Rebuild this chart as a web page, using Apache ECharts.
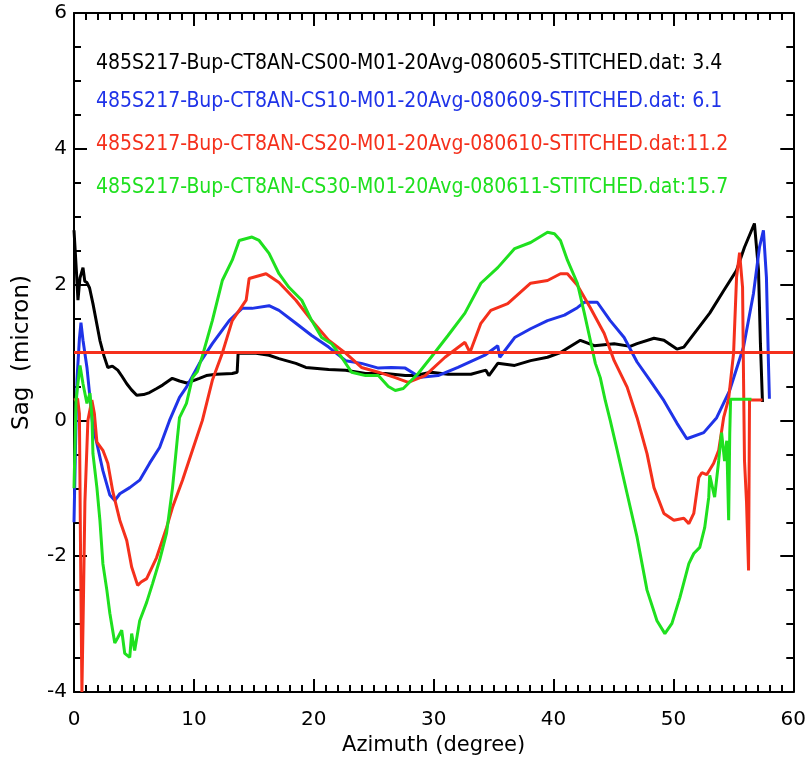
<!DOCTYPE html>
<html>
<head>
<meta charset="utf-8">
<script src="https://cdn.jsdelivr.net/npm/echarts@6/dist/echarts.min.js"></script>
<style>
  html, body { margin: 0; padding: 0; background: #ffffff; }
  #chart { width: 809px; height: 762px; }
</style>
</head>
<body>
<div id="chart"></div>
<script>
// Sag profiles versus azimuth, one trace per measurement file: [azimuth (deg), sag (micron)]
const cs00 = [[0,2.8],[0.1,2.5],[0.2,2.2],[0.33,1.77],[0.5,2.1],[0.75,2.25],[0.9,2.05],[1.08,2.03],[1.3,1.95],[1.58,1.72],[2.16,1.18],[2.5,0.95],[2.82,0.78],[3.2,0.8],[3.65,0.74],[4.0,0.65],[4.4,0.54],[4.8,0.45],[5.23,0.37],[5.8,0.38],[6.3,0.41],[6.9,0.47],[7.39,0.52],[8.2,0.62],[8.8,0.58],[9.4,0.55],[10.46,0.62],[11.04,0.66],[11.87,0.68],[13.2,0.69],[13.61,0.71],[13.69,0.99],[15.19,0.99],[16.27,0.96],[17.1,0.91],[18.51,0.84],[19.34,0.78],[21.24,0.75],[22.66,0.74],[24.32,0.69],[25.98,0.69],[27.63,0.66],[28.46,0.66],[29.79,0.71],[31.2,0.68],[33.11,0.68],[34.36,0.74],[34.61,0.66],[35.35,0.84],[36.76,0.81],[38.09,0.88],[39.5,0.93],[40.58,1.0],[42.24,1.18],[43.4,1.1],[45.06,1.13],[46.39,1.09],[46.97,1.13],[48.38,1.21],[49.21,1.18],[50.29,1.05],[50.87,1.08],[51.95,1.33],[53.03,1.58],[54.19,1.91],[55.27,2.21],[55.93,2.55],[56.76,2.9],[57.1,2.21],[57.26,1.13],[57.43,0.27]];

const cs10 = [[0,-1.5],[0.1,-0.6],[0.25,0.6],[0.45,1.2],[0.58,1.44],[0.75,1.18],[1.08,0.78],[1.33,0.34],[1.58,-0.1],[1.91,-0.34],[2.41,-0.74],[2.99,-1.1],[3.4,-1.18],[3.82,-1.08],[4.65,-0.99],[5.48,-0.88],[6.31,-0.63],[7.14,-0.4],[7.97,0.0],[8.8,0.34],[9.38,0.49],[10.46,0.84],[11.54,1.13],[12.95,1.47],[14.02,1.65],[14.85,1.65],[16.27,1.69],[17.1,1.62],[18.51,1.43],[19.83,1.25],[21.24,1.08],[22.66,0.88],[23.98,0.84],[25.39,0.77],[26.47,0.78],[27.63,0.77],[28.46,0.68],[28.71,0.63],[30.37,0.66],[32.03,0.78],[34.27,0.96],[35.35,1.1],[35.52,0.93],[36.76,1.22],[38.09,1.35],[39.5,1.47],[40.91,1.55],[41.99,1.66],[42.57,1.74],[43.65,1.74],[44.73,1.47],[45.89,1.22],[46.97,0.86],[48.05,0.59],[49.21,0.29],[50.29,-0.04],[51.12,-0.27],[52.53,-0.18],[53.61,0.04],[54.69,0.44],[55.85,1.08],[56.68,1.87],[57.18,2.55],[57.51,2.8],[57.76,2.11],[57.93,0.84],[58.01,0.32]];

const cs20 = [[0,0.3],[0.3,0.32],[0.45,0.1],[0.55,-2.0],[0.66,-4.0],[0.8,-2.5],[0.91,-1.2],[1.16,0.0],[1.49,0.3],[1.7,0.1],[1.91,-0.32],[2.41,-0.44],[2.82,-0.63],[3.24,-1.05],[3.82,-1.47],[4.4,-1.77],[4.81,-2.16],[5.31,-2.43],[5.6,-2.38],[6.06,-2.33],[6.89,-2.02],[7.72,-1.58],[8.22,-1.28],[9.05,-0.88],[9.88,-0.44],[10.71,0.0],[11.54,0.59],[12.37,0.99],[13.2,1.47],[14.36,1.77],[14.61,2.09],[16.02,2.16],[17.1,2.03],[18.51,1.77],[19.83,1.47],[21.24,1.18],[22.66,0.99],[23.98,0.78],[25.39,0.71],[26.8,0.63],[27.88,0.56],[29.29,0.66],[30.95,0.93],[32.61,1.15],[33.03,1.0],[33.94,1.43],[34.77,1.62],[36.18,1.72],[38.09,2.02],[39.5,2.06],[40.58,2.16],[41.16,2.16],[41.99,1.99],[43.07,1.66],[44.23,1.28],[45.06,0.88],[46.14,0.49],[46.97,0.04],[47.8,-0.49],[48.38,-0.99],[49.21,-1.37],[50.04,-1.47],[50.87,-1.44],[51.29,-1.52],[51.7,-1.37],[52.12,-0.84],[52.37,-0.77],[52.78,-0.8],[53.36,-0.63],[53.78,-0.44],[54.19,0.04],[54.61,0.32],[55.02,0.99],[55.27,2.11],[55.52,2.47],[55.77,1.96],[55.85,0.63],[55.93,-0.59],[56.1,-1.2],[56.27,-2.21],[56.35,0.3],[57.43,0.3]];

const cs30 = [[0,-1.0],[0.17,0.3],[0.5,0.81],[0.75,0.54],[1.08,0.25],[1.33,0.4],[1.5,0.04],[1.58,-0.49],[1.91,-0.99],[2.16,-1.47],[2.41,-2.11],[2.74,-2.5],[2.99,-2.84],[3.4,-3.28],[3.65,-3.2],[3.98,-3.09],[4.23,-3.43],[4.65,-3.49],[4.81,-3.14],[5.06,-3.39],[5.48,-2.95],[6.06,-2.68],[6.56,-2.4],[7.14,-2.06],[7.72,-1.66],[8.22,-0.99],[8.63,-0.25],[8.8,0.04],[9.38,0.25],[9.88,0.63],[10.29,0.72],[10.71,0.95],[11.54,1.47],[12.37,2.06],[13.2,2.36],[13.78,2.65],[14.85,2.7],[15.44,2.65],[16.27,2.46],[17.1,2.16],[17.93,1.96],[19.0,1.77],[19.83,1.47],[20.66,1.22],[21.49,1.13],[22.32,0.93],[23.15,0.71],[24.32,0.66],[25.39,0.66],[26.22,0.5],[26.8,0.44],[27.47,0.47],[28.71,0.69],[29.79,0.93],[31.2,1.25],[32.61,1.58],[33.94,2.02],[35.35,2.25],[36.76,2.53],[38.09,2.62],[39.5,2.77],[40.08,2.75],[40.58,2.65],[41.16,2.36],[41.99,2.02],[42.57,1.58],[43.07,1.18],[43.49,0.84],[43.9,0.63],[44.32,0.29],[44.73,0.0],[45.31,-0.44],[46.14,-1.08],[46.97,-1.72],[47.8,-2.5],[48.63,-2.95],[49.29,-3.14],[49.88,-2.99],[50.54,-2.61],[51.29,-2.11],[51.7,-1.96],[52.2,-1.87],[52.61,-1.58],[52.95,-1.13],[53.03,-0.81],[53.44,-1.13],[53.78,-0.59],[54.02,-0.18],[54.27,-0.6],[54.45,-0.3],[54.61,-1.47],[54.7,-0.2],[54.77,0.31],[56.51,0.31]];

// Horizontal reference level (micron)
const referenceLevel = 1;

// Annotation text for each trace
const traceLabels = [
  '485S217-Bup-CT8AN-CS00-M01-20Avg-080605-STITCHED.dat: 3.4',
  '485S217-Bup-CT8AN-CS10-M01-20Avg-080609-STITCHED.dat: 6.1',
  '485S217-Bup-CT8AN-CS20-M01-20Avg-080610-STITCHED.dat:11.2',
  '485S217-Bup-CT8AN-CS30-M01-20Avg-080611-STITCHED.dat:15.7'
];

const traceColors = ['#000000', '#1f33e8', '#f5301c', '#1fe01f'];
const traces = [cs00, cs10, cs20, cs30];

const xRange = [0, 60];
const yRange = [-4, 6];

const FONT = '"DejaVu Sans", sans-serif';
const chart = echarts.init(document.getElementById('chart'), null, { renderer: 'canvas' });

function axisCommon(extra) {
  return Object.assign({
    type: 'value',
    axisLine: { show: true, onZero: false, lineStyle: { color: '#000', width: 2 } },
    axisTick: { show: true, inside: true, length: 13, lineStyle: { color: '#000', width: 2 } },
    splitLine: { show: false },
    minorSplitLine: { show: false }
  }, extra);
}

const labelRows = [63, 101, 144, 187];

const option = {
  animation: false,
  backgroundColor: '#ffffff',
  grid: { left: 74, right: 12, top: 13, bottom: 70, containLabel: false },
  xAxis: [
    axisCommon({
      min: xRange[0], max: xRange[1], interval: 10, position: 'bottom',
      minorTick: { show: true, splitNumber: 10, length: 7, lineStyle: { color: '#000', width: 2 } },
      axisLabel: { show: true, color: '#000', fontSize: 20, fontFamily: FONT, margin: 18 },
      name: 'Azimuth (degree)', nameLocation: 'middle', nameGap: 43,
      nameTextStyle: { color: '#000', fontSize: 21, fontFamily: FONT }
    }),
    axisCommon({
      min: xRange[0], max: xRange[1], interval: 10, position: 'top',
      minorTick: { show: true, splitNumber: 10, length: 7, lineStyle: { color: '#000', width: 2 } },
      axisLabel: { show: false }
    })
  ],
  yAxis: [
    axisCommon({
      min: yRange[0], max: yRange[1], interval: 2, position: 'left',
      minorTick: { show: true, splitNumber: 4, length: 7, lineStyle: { color: '#000', width: 2 } },
      axisLabel: { show: true, color: '#000', fontSize: 20, fontFamily: FONT, margin: 7 },
      name: 'Sag  (micron)', nameLocation: 'middle', nameGap: 40,
      nameTextStyle: { color: '#000', fontSize: 23, fontFamily: FONT }
    }),
    axisCommon({
      min: yRange[0], max: yRange[1], interval: 2, position: 'right',
      minorTick: { show: true, splitNumber: 4, length: 7, lineStyle: { color: '#000', width: 2 } },
      axisLabel: { show: false }
    })
  ],
  graphic: traceLabels.map((t, i) => ({
    type: 'text',
    x: 96,
    y: labelRows[i],
    scaleX: 0.86,
    z: 100,
    style: {
      text: t,
      fill: traceColors[i],
      fontSize: 22,
      fontFamily: FONT,
      verticalAlign: 'middle',
      align: 'left'
    }
  })),
  series: traces.map((d, i) => ({
    type: 'line',
    name: traceLabels[i],
    data: d,
    xAxisIndex: 0,
    yAxisIndex: 0,
    showSymbol: false,
    symbol: 'none',
    clip: true,
    lineStyle: { color: traceColors[i], width: 3 },
    z: 2 + i
  })).concat([{
    type: 'line',
    name: 'reference',
    data: [[xRange[0], referenceLevel], [xRange[1], referenceLevel]],
    showSymbol: false,
    symbol: 'none',
    lineStyle: { color: '#f5301c', width: 3 },
    z: 10
  }])
};

chart.setOption(option);
</script>
</body>
</html>
